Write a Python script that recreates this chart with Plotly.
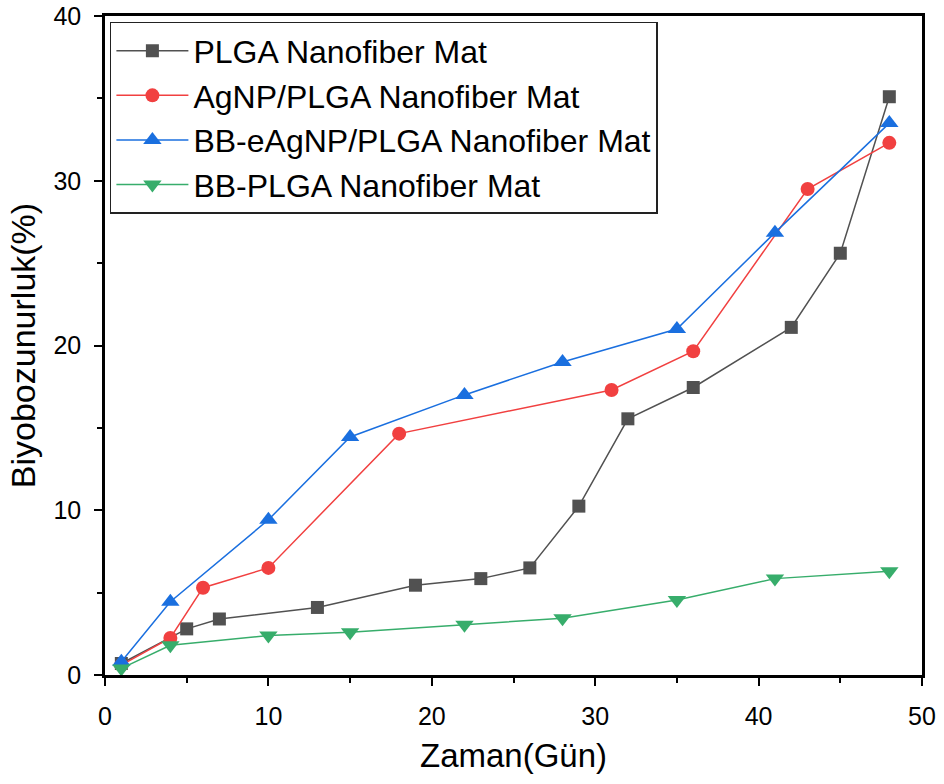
import plotly.graph_objects as go

# Degradation (%) over time (days) for four nanofiber mats
days_plga = [1, 5, 7, 13, 19, 23, 26, 29, 32, 36, 42, 45, 48]
plga = [0.7, 2.8, 3.4, 4.1, 5.45, 5.85, 6.5, 10.25, 15.55, 17.45, 21.1, 25.6, 35.1]

days_agnp = [1, 4, 6, 10, 18, 31, 36, 43, 48]
agnp = [0.6, 2.25, 5.3, 6.5, 14.65, 17.3, 19.65, 29.5, 32.3]

days_bbe = [1, 4, 10, 15, 22, 28, 35, 41, 48]
bbe = [0.8, 4.45, 9.42, 14.45, 17.0, 19.0, 21.0, 26.85, 33.5]

days_bb = [1, 4, 10, 15, 22, 28, 35, 41, 48]
bb = [0.4, 1.8, 2.4, 2.6, 3.05, 3.45, 4.55, 5.85, 6.3]

names = [
    "PLGA Nanofiber Mat",
    "AgNP/PLGA Nanofiber Mat",
    "BB-eAgNP/PLGA Nanofiber Mat",
    "BB-PLGA Nanofiber Mat",
]
colors = ["#515151", "#F14040", "#1A6FDF", "#37AD6B"]
symbols = ["square", "circle", "triangle-up", "triangle-down"]
sizes = [13, 14, 16, 16]

series = [(days_plga, plga), (days_agnp, agnp), (days_bbe, bbe), (days_bb, bb)]

FONT = "Liberation Sans, Arial, sans-serif"

fig = go.Figure()
for (x, y), name, c, s, ms in zip(series, names, colors, symbols, sizes):
    fig.add_trace(go.Scatter(
        x=x, y=y, name=name, mode="lines+markers",
        line=dict(color=c, width=1.5),
        marker=dict(color=c, symbol=s, size=ms, line=dict(width=0)),
        cliponaxis=False,
    ))

axis_common = dict(
    showline=True, linecolor="black", linewidth=2.5, mirror=True,
    ticks="outside", ticklen=8, tickwidth=2, tickcolor="black",
    showgrid=False, zeroline=False, automargin=False,
    tickfont=dict(family=FONT, size=25, color="black"),
)

fig.update_xaxes(
    range=[0, 50], dtick=10, tick0=0,
    minor=dict(ticks="outside", ticklen=5, tickwidth=2, tickcolor="black", dtick=5, tick0=0),
    ticklabelstandoff=9,
    title=dict(text="Zaman(Gün)", font=dict(family=FONT, size=33, color="black"), standoff=16),
    **axis_common,
)
fig.update_yaxes(
    range=[0, 40], dtick=10, tick0=0,
    minor=dict(ticks="outside", ticklen=5, tickwidth=2, tickcolor="black", dtick=5, tick0=0),
    ticklabelstandoff=8,
    title=dict(text="Biyobozunurluk(%)", font=dict(family=FONT, size=34, color="black"), standoff=8),
    **axis_common,
)

fig.update_layout(
    width=944, height=784,
    margin=dict(l=105, r=22, t=16, b=109),
    paper_bgcolor="white", plot_bgcolor="white",
    font=dict(family=FONT, color="black"),
    legend=dict(
        x=0.006, y=0.991, xanchor="left", yanchor="top",
        bgcolor="white", bordercolor="#222222", borderwidth=1.5,
        font=dict(family=FONT, size=32, color="black"),
        itemwidth=72, tracegroupgap=0,
    ),
    showlegend=True,
)

fig.write_html("out.html")
